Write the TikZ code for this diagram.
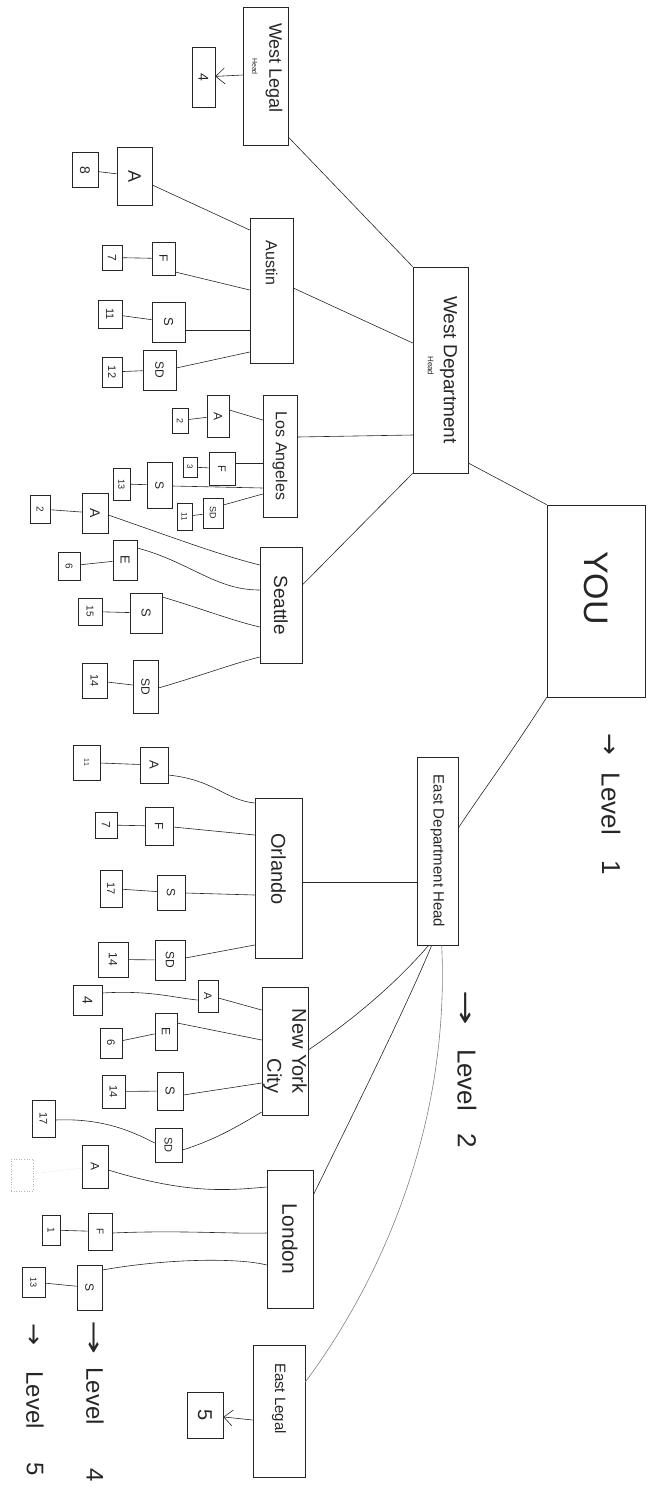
\documentclass[tikz,border=0pt]{standalone}
\usepackage{graphicx}
\usepackage{fontspec}
\setmainfont{Liberation Sans}
\newfontfamily\arrowfont{DejaVu Sans}
\usetikzlibrary{arrows.meta}
\newcommand\rtxt[1]{\rotatebox{-90}{#1}}
\newcommand\fsz[1]{\fontsize{#1}{#1}\selectfont}
\newcommand\mybox[6]{\node[bx,minimum width=#4pt,minimum height=#5pt] (#1) at (#2,#3) {#6};}
\newcommand\lvl[7]{\node[lbl,anchor=west] (#1) at (#2,#3) {\fsz{#7}\scalebox{#4}[1]{\arrowfont →}\hspace*{#5pt}Level\hspace*{#6pt}};}
\begin{document}
\begin{tikzpicture}[x=1pt,y=-1pt,
  bx/.style={draw=black!85, line width=0.6pt, inner sep=0pt, text=black!85},
  ln/.style={draw=black!85, line width=0.6pt},
  faint/.style={draw=black!30, line width=0.5pt, dotted},
  lbl/.style={inner sep=0pt, rotate=-90, text=black!85},
  barb/.style={ln, -{Straight Barb[length=9pt,width=16pt]}}]
\useasboundingbox (0,0) rectangle (668,1489);

% ---- level 1
\mybox{you}{596}{601}{98}{192}{\rtxt{\fsz{34}YOU\hspace*{26pt}}}

% ---- department heads
\mybox{west}{440.5}{370}{55}{206}{\rtxt{\begin{tabular}{@{}l@{}}\fsz{19}West Department\\[4pt]\hspace*{60pt}\fsz{8}Head\end{tabular}}}
\mybox{east}{437.5}{851}{41}{188}{\rtxt{\fsz{15}East Department Head}}

% ---- west side
\mybox{wlegal}{265.5}{76}{45}{138}{\rtxt{\begin{tabular}{@{}l@{}}\fsz{18}West Legal\\[5pt]\hspace*{35pt}\fsz{7}Head\end{tabular}\hspace*{16pt}}}
\mybox{w4}{203.5}{77}{23}{60}{\rtxt{\fsz{14}4}}
\mybox{austin}{271.5}{290.5}{43}{145}{\rtxt{\fsz{16}Austin\hspace*{55pt}}}
\mybox{la}{280}{456}{34}{122}{\rtxt{\fsz{16}Los Angeles}}
\mybox{seattle}{281}{605}{42}{116}{\rtxt{\fsz{19}Seattle}}

% Austin
\mybox{aA}{134.5}{176}{35}{58}{\rtxt{\fsz{18}A}}
\mybox{a8}{85}{170}{26}{35}{\rtxt{\fsz{14}8}}
\mybox{aF}{163.5}{258.5}{23}{33}{\rtxt{\fsz{12}F}}
\mybox{a7}{112}{257.5}{20}{25}{\rtxt{\fsz{12}7}}
\mybox{aS}{168.5}{322}{33}{40}{\rtxt{\fsz{13}S}}
\mybox{a11}{110}{314}{24}{28}{\rtxt{\fsz{11}11}}
\mybox{aSD}{159.5}{370}{33}{40}{\rtxt{\fsz{12}SD}}
\mybox{a12}{112}{372}{20}{30}{\rtxt{\fsz{11}12}}

% Los Angeles
\mybox{lA}{218}{416}{22}{42}{\rtxt{\fsz{12}A}}
\mybox{l2}{180}{420.5}{16}{25}{\rtxt{\fsz{9}2}}
\mybox{lF}{222}{468.5}{26}{33}{\rtxt{\fsz{11}F}}
\mybox{l3}{190}{467}{14}{20}{\rtxt{\fsz{8}3}}
\mybox{lS}{159.5}{485}{25}{46}{\rtxt{\fsz{12}S}}
\mybox{l13}{121.5}{484}{17}{32}{\rtxt{\fsz{9}13}}
\mybox{lSD}{213}{513}{20}{30}{\rtxt{\fsz{9}SD}}
\mybox{l11}{184.5}{516.5}{15}{27}{\rtxt{\fsz{8}11}}

% Seattle
\mybox{sA}{95}{513}{26}{40}{\rtxt{\fsz{14}A}}
\mybox{s2}{40}{509}{20}{28}{\rtxt{\fsz{10}2}}
\mybox{sE}{125}{560}{24}{40}{\rtxt{\fsz{13}E}}
\mybox{s6}{69}{566}{22}{28}{\rtxt{\fsz{10}6}}
\mybox{sS}{146}{613}{32}{40}{\rtxt{\fsz{13}S}}
\mybox{s15}{90}{611.5}{24}{27}{\rtxt{\fsz{10}15}}
\mybox{sSD}{145.5}{686.5}{25}{53}{\rtxt{\fsz{12}SD}}
\mybox{s14}{94.5}{680.5}{25}{35}{\rtxt{\fsz{11}14}}

% ---- east side
\mybox{orlando}{278.5}{878}{47}{160}{\rtxt{\fsz{20}Orlando\hspace*{18pt}}}
\mybox{nyc}{285}{1051}{46}{128}{\rtxt{\begin{tabular}{@{}r@{}}\fsz{20}New York\\[7pt]\fsz{20}City\end{tabular}}}
\mybox{london}{290}{1239}{46}{138}{\rtxt{\fsz{21}London}}
\mybox{elegal}{279}{1411}{52}{132}{\rtxt{\fsz{15}East Legal\hspace*{25pt}}}
\mybox{e5}{205}{1415}{36}{46}{\rtxt{\fsz{20}5}}

% Orlando
\mybox{oA}{154}{765}{28}{36}{\rtxt{\fsz{13}A}}
\mybox{o11}{86.5}{762.5}{27}{35}{\rtxt{\fsz{7}11}}
\mybox{oF}{159}{826}{28}{38}{\rtxt{\fsz{12}F}}
\mybox{o7}{106}{825}{22}{26}{\rtxt{\fsz{12}7}}
\mybox{oS}{171}{892.5}{28}{35}{\rtxt{\fsz{12}S}}
\mybox{o17}{111}{888.5}{22}{37}{\rtxt{\fsz{11}17}}
\mybox{oSD}{170}{960}{30}{40}{\rtxt{\fsz{12}SD}}
\mybox{o14}{113}{959.5}{30}{35}{\rtxt{\fsz{12}14}}

% New York City
\mybox{nA}{208}{996}{20}{32}{\rtxt{\fsz{11}A}}
\mybox{n4}{87.5}{1000}{29}{30}{\rtxt{\fsz{14}4}}
\mybox{nE}{166}{1031.5}{22}{37}{\rtxt{\fsz{12}E}}
\mybox{n6}{111}{1043}{22}{30}{\rtxt{\fsz{11}6}}
\mybox{nS}{170}{1091}{26}{38}{\rtxt{\fsz{13}S}}
\mybox{n14}{113.5}{1091.5}{23}{33}{\rtxt{\fsz{11}14}}
\mybox{nSD}{168.5}{1145}{27}{34}{\rtxt{\fsz{11}SD}}
\mybox{n17}{43.5}{1118.5}{23}{37}{\rtxt{\fsz{11}17}}

% London
\mybox{dA}{95}{1166.5}{26}{43}{\rtxt{\fsz{12}A}}
\node[bx, draw=black!30, dotted, minimum width=22pt, minimum height=32pt] (dX) at (22,1175) {};
\mybox{dF}{100}{1231.5}{24}{37}{\rtxt{\fsz{10}F}}
\mybox{d1}{51}{1230}{18}{30}{\rtxt{\fsz{10}1}}
\mybox{dS}{89.5}{1287.5}{25}{45}{\rtxt{\fsz{12}S}}
\mybox{d13}{33.5}{1282}{23}{30}{\rtxt{\fsz{9}13}}

% ---- level labels
\lvl{lv1}{611}{733}{1}{18}{21}{26}
\node[lbl,anchor=west] (lv1n) at (611,860) {\fsz{26}1};
\lvl{lv2}{467}{990}{1.6}{24}{21}{26}
\node[lbl,anchor=west] (lv2n) at (467,1133) {\fsz{26}2};
\lvl{lv4}{95}{1320}{1.7}{13}{38}{24}
\node[lbl,anchor=west] (lv4n) at (95,1468) {\fsz{24}4};
\lvl{lv5}{35}{1323}{1.1}{26}{31}{24}
\node[lbl,anchor=west] (lv5n) at (35,1462) {\fsz{24}5};

% ---- connectors: top levels
\draw[ln] (wlegal.east |- 0,137) -- (west.north west);
\draw[barb] (wlegal.west |- 0,75) -- (w4);
\draw[ln] (austin.east |- 0,288) -- (west.west |- 0,343);
\draw[ln] (la.east |- 0,437) -- (west.west |- 0,435);
\draw[ln] (seattle.east |- 0,585) -- (west.south west);
\draw[ln] (west.east |- 0,463) -- (you.north west);
\draw[ln] (you.south west) .. controls (510,755) and (480,795) .. (east.east |- 0,828);
\draw[ln] (orlando.east |- 0,882) -- (east.west |- 0,882);
\draw[ln] ([xshift=12pt]east.south west) .. controls (390,990) and (345,1025) .. (nyc.east |- 0,1050);
\draw[ln] ([xshift=15pt]east.south west) .. controls (405,1010) and (345,1130) .. (london.east |- 0,1195);
\draw[ln, draw=black!50] ([xshift=25pt]east.south west) .. controls (450,1120) and (385,1275) .. (elegal.east |- 0,1382);
\draw[barb] (elegal.west |- 0,1420) -- (e5);

% Austin
\draw[ln] (a8) -- (aA);
\draw[ln] (aA.east |- 0,185) -- (austin.west |- 0,230);
\draw[ln] (a7) -- (aF);
\draw[ln] (aF.east |- 0,272) -- (austin.west |- 0,290);
\draw[ln] (a11) -- (aS);
\draw[ln] (aS.east |- 0,330) -- (austin.west |- 0,330);
\draw[ln] (a12) -- (aSD);
\draw[ln] (aSD.east |- 0,368) -- (austin.west |- 0,352);

% Los Angeles
\draw[ln] (l2) -- (lA);
\draw[ln] (lA.east |- 0,410) -- (la.west |- 0,420);
\draw[ln] (l3) -- (lF);
\draw[ln] (lF.east |- 0,463) -- (la.west |- 0,463);
\draw[ln] (l13) -- (lS);
\draw[ln] (lS.east |- 0,486) -- (la.west |- 0,488);
\draw[ln] (l11) -- (lSD);
\draw[ln] (lSD.east |- 0,505) -- (la.west |- 0,494);

% Seattle
\draw[ln] (s2) -- (sA);
\draw[ln] (sA.east |- 0,515) .. controls (180,540) and (220,555) .. (seattle.west |- 0,565);
\draw[ln] (s6) -- (sE);
\draw[ln] (sE.east |- 0,548) .. controls (190,562) and (215,590) .. (seattle.west |- 0,590);
\draw[ln] (s15) -- (sS);
\draw[ln] (sS.east |- 0,597) .. controls (200,608) and (230,620) .. (seattle.west |- 0,627);
\draw[ln] (s14) -- (sSD);
\draw[ln] (sSD.east |- 0,688) .. controls (200,676) and (235,663) .. (seattle.west |- 0,657);

% Orlando
\draw[ln] (o11) -- (oA);
\draw[ln] (oA.east |- 0,775) .. controls (215,780) and (225,800) .. (orlando.west |- 0,803);
\draw[ln] (o7) -- (oF);
\draw[ln] (oF.east |- 0,827) -- (orlando.west |- 0,835);
\draw[ln] (o17) -- (oS);
\draw[ln] (oS.east |- 0,893) -- (orlando.west |- 0,895);
\draw[ln] (o14) -- (oSD);
\draw[ln] (oSD.east |- 0,958) -- (orlando.west |- 0,945);

% New York City
\draw[ln] (n4.east |- 0,993) .. controls (150,990) and (175,998) .. (nA.west |- 0,1000);
\draw[ln] (nA.east |- 0,998) -- (nyc.west |- 0,1010);
\draw[ln] (n6) -- (nE);
\draw[ln] (nE.east |- 0,1023) -- (nyc.west |- 0,1040);
\draw[ln] (n14) -- (nS);
\draw[ln] (nS.east |- 0,1095) -- (nyc.west |- 0,1083);
\draw[ln] (n17.east |- 0,1120) .. controls (100,1118) and (130,1130) .. (nSD.west |- 0,1143);
\draw[ln] (nSD.east |- 0,1150) .. controls (215,1140) and (240,1125) .. (nyc.west |- 0,1112);

% London
\draw[faint] (dX) -- (dA);
\draw[ln] (dA.east |- 0,1170) .. controls (190,1195) and (230,1190) .. (london.west |- 0,1187);
\draw[ln] (d1) -- (dF);
\draw[ln] (dF.east |- 0,1233) .. controls (180,1230) and (230,1234) .. (london.west |- 0,1233);
\draw[ln] (d13) -- (dS);
\draw[ln] (dS.east |- 0,1270) .. controls (170,1258) and (240,1258) .. (london.west |- 0,1265);
\end{tikzpicture}
\end{document}
